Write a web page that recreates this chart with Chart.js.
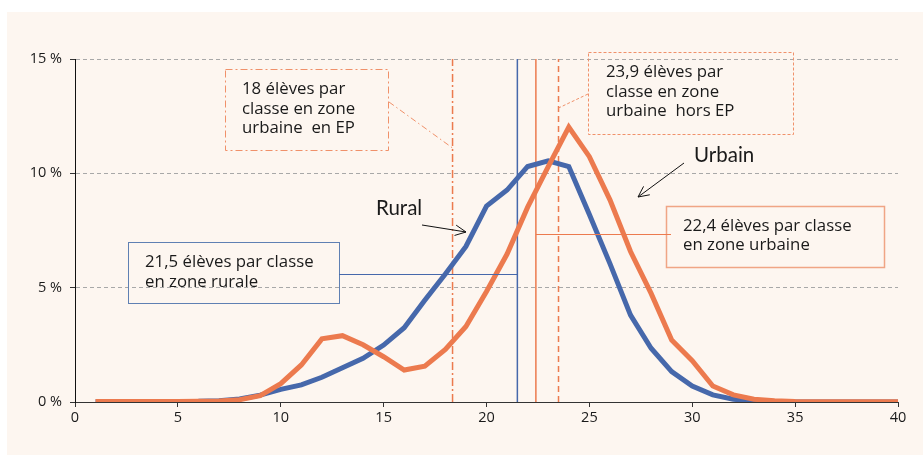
<!DOCTYPE html>
<html>
<head>
<meta charset="utf-8">
<script src="https://cdn.jsdelivr.net/npm/chart.js@4/dist/chart.umd.min.js"></script>
<style>
html, body { margin: 0; padding: 0; background: #fff; }
canvas { display: block; }
</style>
</head>
<body>
<canvas id="chart" width="923" height="457"></canvas>
<script>
// élèves par classe (x) et part des classes (%)
var classSizes = [1, 2, 3, 4, 5, 6, 7, 8, 9, 10, 11, 12, 13, 14, 15, 16, 17, 18, 19, 20,
    21, 22, 23, 24, 25, 26, 27, 28, 29, 30, 31, 32, 33, 34, 35, 36, 37, 38, 39, 40];
var rural = [0.01, 0.01, 0.01, 0.01, 0.02, 0.03, 0.06, 0.13, 0.3, 0.55,
    0.75, 1.08, 1.5, 1.91, 2.49, 3.25, 4.45, 5.6, 6.8, 8.57,
    9.27, 10.3, 10.55, 10.3, 8.2, 6.05, 3.8, 2.35, 1.33, 0.7,
    0.31, 0.12, 0.04, 0.01, 0, 0, 0, 0, 0, 0];
var urbain = [0.02, 0.02, 0.02, 0.02, 0.02, 0.03, 0.04, 0.1, 0.28, 0.8,
    1.62, 2.76, 2.9, 2.5, 1.98, 1.4, 1.57, 2.3, 3.3, 4.83,
    6.47, 8.52, 10.29, 12.02, 10.73, 8.84, 6.58, 4.75, 2.71, 1.81,
    0.7, 0.31, 0.12, 0.05, 0.02, 0.01, 0.01, 0.01, 0.01, 0.01];
// moyennes (lignes verticales)
var meanRural = 21.5;
var meanUrbain = 22.4;
var meanEP = 18.35;
var meanHorsEP = 23.5;
var yTickValues = [0, 5, 10, 15];

var BLUE = '#4668ab';
var ORANGE = '#ec7a4e';
var TEXT = '#1a1a1a';

function toPoints(xs, ys) {
    return xs.map(function (x, i) { return {x: x, y: ys[i]}; });
}
function vline(x) {
    return [{x: x, y: 0}, {x: x, y: 15}];
}

function arrow(ctx, x1, y1, x2, y2) {
    var a = Math.atan2(y2 - y1, x2 - x1), len = 12;
    ctx.beginPath();
    ctx.moveTo(x1, y1);
    ctx.lineTo(x2, y2);
    ctx.moveTo(x2 - len * Math.cos(a - 0.45), y2 - len * Math.sin(a - 0.45));
    ctx.lineTo(x2, y2);
    ctx.lineTo(x2 - len * Math.cos(a + 0.45), y2 - len * Math.sin(a + 0.45));
    ctx.stroke();
}

function box(ctx, x, y, w, h, color, width, dash) {
    ctx.save();
    ctx.strokeStyle = color;
    ctx.lineWidth = width;
    ctx.setLineDash(dash);
    ctx.strokeRect(x + 0.5, y + 0.5, w, h);
    ctx.restore();
}

function lines(ctx, arr, x, y, step) {
    arr.forEach(function (t, i) { ctx.fillText(t, x, y + i * step); });
}

var panelPlugin = {
    id: 'panel',
    beforeDraw: function (chart) {
        var ctx = chart.ctx;
        ctx.save();
        ctx.fillStyle = '#fdf6f0';
        ctx.fillRect(7, 12, 916, 443);
        ctx.restore();
    }
};

var notesPlugin = {
    id: 'notes',
    afterDatasetsDraw: function (chart) {
        var ctx = chart.ctx;
        var xs = chart.scales.x;
        ctx.save();

        // boites
        box(ctx, 225, 69, 163, 81, '#f0916a', 1, [7, 3, 2, 3]);
        box(ctx, 588, 52, 205, 82, '#f0916a', 1, [3, 2]);
        box(ctx, 666, 206, 218, 61, '#f0a585', 1.5, []);
        box(ctx, 128, 242, 211, 61, '#5f80b3', 1, []);

        // liaisons
        ctx.lineWidth = 1;
        ctx.strokeStyle = '#f0916a';
        ctx.setLineDash([6, 3, 1.5, 3]);
        ctx.beginPath();
        ctx.moveTo(389, 102); ctx.lineTo(xs.getPixelForValue(meanEP), 148);
        ctx.stroke();
        ctx.setLineDash([3, 2]);
        ctx.beginPath();
        ctx.moveTo(588, 94); ctx.lineTo(xs.getPixelForValue(meanHorsEP), 108);
        ctx.stroke();
        ctx.setLineDash([]);
        ctx.strokeStyle = ORANGE;
        ctx.beginPath();
        ctx.moveTo(xs.getPixelForValue(meanUrbain), 234.5); ctx.lineTo(671, 234.5);
        ctx.stroke();
        ctx.strokeStyle = BLUE;
        ctx.beginPath();
        ctx.moveTo(339, 274.5); ctx.lineTo(xs.getPixelForValue(meanRural), 274.5);
        ctx.stroke();

        // textes
        ctx.fillStyle = TEXT;
        ctx.font = '16.8px "Open Sans"';
        ctx.textBaseline = 'middle';
        ctx.textAlign = 'left';
        lines(ctx, ['18 élèves par', 'classe en zone', 'urbaine  en EP'], 242, 89.5, 19.5);
        lines(ctx, ['23,9 élèves par', 'classe en zone', 'urbaine  hors EP'], 606, 72.5, 19.6);
        lines(ctx, ['22,4 élèves par classe', 'en zone urbaine'], 683, 226, 19.7);
        lines(ctx, ['21,5 élèves par classe', 'en zone rurale'], 145, 262.5, 20);

        ctx.font = '20.5px Lato';
        ctx.fillText('Rural', 376, 208);
        ctx.fillText('Urbain', 694, 155);

        ctx.strokeStyle = '#111';
        ctx.lineWidth = 1;
        arrow(ctx, 422, 225, 466, 232);
        arrow(ctx, 684, 163, 638, 197);
        ctx.restore();
    }
};

var markerStyle = {pointRadius: 0, borderWidth: 1.5, fill: false, tension: 0};

new Chart(document.getElementById('chart'), {
    type: 'line',
    data: {
        datasets: [
            Object.assign({label: 'EP', data: vline(meanEP), borderColor: ORANGE, borderDash: [8, 3, 2, 3], order: 6}, markerStyle),
            Object.assign({label: 'Hors EP', data: vline(meanHorsEP), borderColor: ORANGE, borderDash: [6, 4], order: 5}, markerStyle),
            Object.assign({label: 'Moy. rural', data: vline(meanRural), borderColor: BLUE, order: 4}, markerStyle),
            Object.assign({label: 'Moy. urbain', data: vline(meanUrbain), borderColor: ORANGE, order: 3}, markerStyle),
            {
                label: 'Rural',
                data: toPoints(classSizes, rural),
                borderColor: BLUE,
                borderWidth: 5,
                pointRadius: 0,
                tension: 0,
                order: 2
            },
            {
                label: 'Urbain',
                data: toPoints(classSizes, urbain),
                borderColor: ORANGE,
                borderWidth: 5,
                pointRadius: 0,
                tension: 0,
                order: 1
            }
        ]
    },
    options: {
        responsive: false,
        animation: false,
        layout: {padding: {left: 0, right: 25, top: 59, bottom: 0}},
        plugins: {legend: {display: false}, tooltip: {enabled: false}},
        scales: {
            x: {
                type: 'linear',
                min: 0,
                max: 40,
                afterFit: function (s) { s.height = 55; },
                ticks: {stepSize: 5, color: TEXT, font: {family: 'Open Sans', size: 14.5}, padding: 2},
                grid: {drawOnChartArea: false, drawTicks: true, tickLength: 5, tickColor: '#333'},
                border: {display: true, color: '#333', width: 1}
            },
            y: {
                min: 0,
                max: 15,
                afterFit: function (s) { s.width = 75; },
                afterBuildTicks: function (s) { s.ticks = yTickValues.map(function (v) { return {value: v}; }); },
                ticks: {
                    color: TEXT,
                    font: {family: 'Open Sans', size: 14.5},
                    padding: 8,
                    callback: function (v) { return v + ' %'; }
                },
                grid: {
                    color: function (c) { return c.tick && c.tick.value === 0 ? 'rgba(0,0,0,0)' : '#a8a8a8'; },
                    tickColor: '#333',
                    tickLength: 5
                },
                border: {display: true, color: '#111', width: 1, dash: [4, 3]}
            }
        }
    },
    plugins: [panelPlugin, notesPlugin]
});
</script>
</body>
</html>
